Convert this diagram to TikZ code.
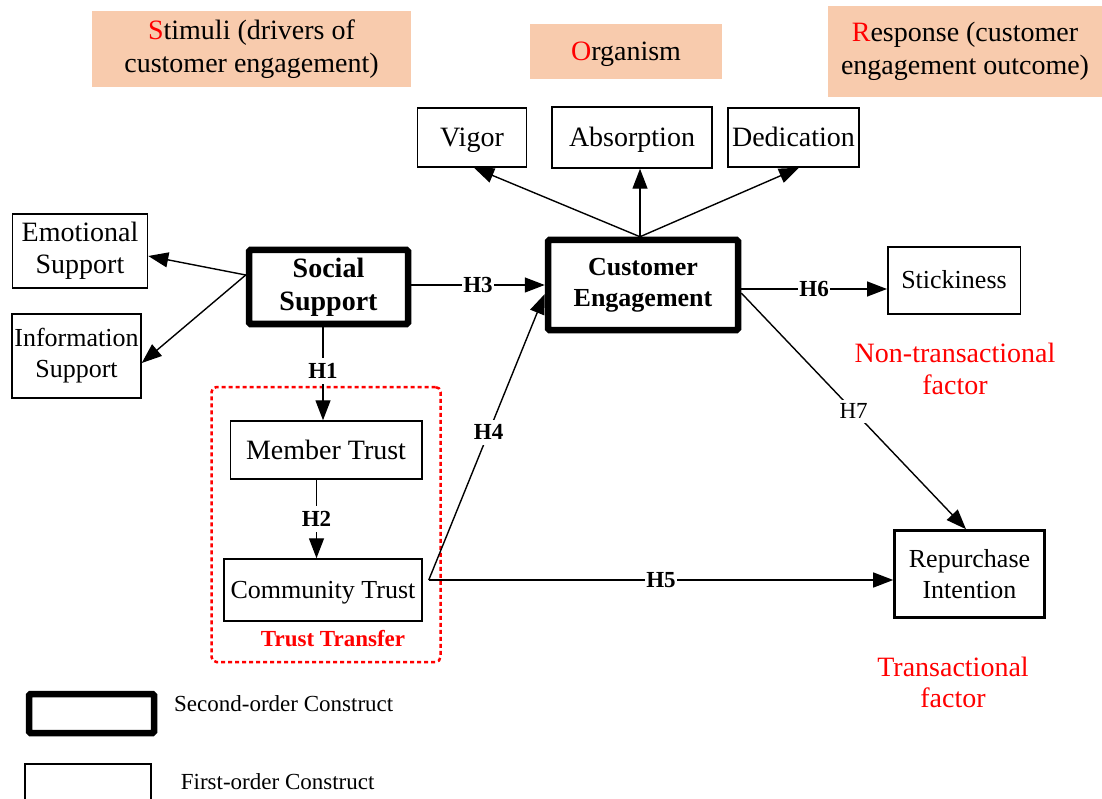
\documentclass[tikz,border=0pt]{standalone}
\usepackage{fontspec}
\setmainfont{Liberation Serif}
\usetikzlibrary{arrows.meta}
\definecolor{peach}{HTML}{F8CBAD}
\newcommand\szA{\fontsize{28}{32}\selectfont}
\newcommand\szH{\fontsize{28}{33}\selectfont}
\newcommand\szB{\fontsize{26}{31}\selectfont}
\newcommand\szC{\fontsize{23}{27}\selectfont}
\newcommand\szD{\fontsize{26}{31}\selectfont\bfseries}
\newcommand\szE{\fontsize{28}{33}\selectfont\bfseries}
\begin{document}
\begin{tikzpicture}[x=1pt,y=-1pt,
  box/.style={draw, line width=1.5pt, inner sep=0pt, align=center},
  bigbox/.style={draw, line width=6.5pt, rounded corners=1.5pt, inner sep=0pt, align=center, font=\szD},
  hdr/.style={fill=peach, inner sep=0pt, align=center, font=\szH},
  arr/.style={line width=1.4pt, -{Triangle[length=20pt,width=15pt]}},
  lab/.style={fill=white, inner xsep=1pt, inner ysep=5pt, font=\szC\bfseries},
  redtxt/.style={text=red, align=center, inner sep=0pt},
  legtxt/.style={anchor=west, inner sep=0pt, font=\szC},
  oneA/.style={text height=18.5pt, text depth=0pt},
  oneB/.style={text height=17pt, text depth=0pt}
]
\useasboundingbox (0,0) rectangle (1102,799);

% headers
\node[hdr, minimum width=319pt, minimum height=76pt] (stim) at (251.5,49) {\textcolor{red}{S}timuli (drivers of\\customer engagement)};
\node[hdr, oneA, minimum width=192pt, minimum height=55pt] (org) at (626,51.5) {\textcolor{red}{O}rganism};
\node[hdr, minimum width=274pt, minimum height=91pt] (resp) at (965,51.5) {\textcolor{red}{R}esponse (customer\\engagement outcome)};

% engagement dimensions
\node[box, oneA, font=\szA, minimum width=109pt, minimum height=59pt] (vigor) at (472,137.5) {Vigor};
\node[box, oneA, font=\szA, minimum width=160pt, minimum height=61pt] (absorp) at (632,137.5) {Absorption};
\node[box, oneA, font=\szA, minimum width=131pt, minimum height=59pt] (dedic) at (793.5,137.5) {Dedication};

% support dimensions
\node[box, font=\szA, minimum width=135pt, minimum height=74pt] (emot) at (80,251) {Emotional\\Support};
\node[box, font=\szB, minimum width=129pt, minimum height=84pt] (info) at (76.5,356) {Information\\Support};

% second-order constructs
\node[bigbox, font=\szE, minimum width=159pt, minimum height=74pt] (ss) at (328.5,287) {Social\\Support};
\node[bigbox, minimum width=190pt, minimum height=90pt] (ce) at (643,285) {Customer\\Engagement};

% outcomes
\node[box, oneB, font=\szB, minimum width=132.5pt, minimum height=67pt] (stick) at (954,280.5) {Stickiness};
\node[box, font=\szB, line width=2.6pt, minimum width=150pt, minimum height=87pt] (rep) at (969.5,574) {Repurchase\\Intention};

% trust transfer group
\node[draw=red, line width=2.5pt, dash pattern=on 4pt off 3pt, rounded corners=5pt, minimum width=229pt, minimum height=275pt, inner sep=0pt] (grp) at (326,524.5) {};
\node[box, oneA, font=\szA, minimum width=191.5pt, minimum height=58pt] (mt) at (326,450) {Member Trust};
\node[box, oneB, font=\szB, minimum width=198pt, minimum height=62pt] (ct) at (323,590) {Community Trust};
\node[redtxt, font=\szC\bfseries] (tt) at (333,639) {Trust Transfer};

% factor labels
\node[redtxt, font=\szA] (ntf) at (955,369) {Non-transactional\\factor};
\node[redtxt, font=\fontsize{28}{31}\selectfont] (tf) at (953,682.5) {Transactional\\factor};

% legend
\node[bigbox, minimum width=125pt, minimum height=39pt] (leg1) at (91.5,713.5) {};
\node[legtxt] (leg1t) at (174,704) {Second-order Construct};
\draw[line width=1.5pt] (25,799) -- (25,764) -- (151,764) -- (151,799);
\node[legtxt] (leg2t) at (180.7,782) {First-order Construct};

% connectors
\coordinate (ssl) at ([yshift=12pt]ss.west);
\draw[arr] (ssl) -- ([yshift=-5pt]emot.east);
\draw[arr] (ssl) -- ([yshift=-7pt]info.east);

\coordinate (h1s) at ([xshift=-5.5pt]ss.south);
\draw[arr] (h1s) -- node[lab, pos=0.47] {H1} (h1s |- mt.north);
\coordinate (h2s) at ([xshift=-9.5pt]mt.south);
\draw[arr] (h2s) -- node[lab] {H2} (h2s |- ct.north);
\coordinate (h3s) at ([yshift=2pt]ss.east);
\draw[arr] (h3s) -- node[lab] {H3} (h3s -| ce.west);

\coordinate (ctp) at ([xshift=6pt,yshift=10pt]ct.east);
\draw[arr] (ctp) -- node[lab, pos=0.516] {H4} ([yshift=-9pt]ce.west);
\draw[arr] (ctp) -- node[lab] {H5} (ctp -| rep.west);

\coordinate (cet) at ([xshift=-3pt]ce.north);
\draw[arr] (cet) -- ([xshift=2pt]vigor.south);
\draw[arr] (cet) -- (cet |- absorp.south);
\draw[arr] (cet) -- ([xshift=5.5pt]dedic.south);

\coordinate (h6s) at ([yshift=-4pt]ce.east);
\draw[arr] (h6s) -- node[lab] {H6} (h6s -| stick.west);
\draw[arr] ([yshift=-8pt]ce.east) -- node[fill=white, font=\szC, inner sep=4pt] {H7} ([xshift=-3.5pt]rep.north);
\end{tikzpicture}
\end{document}
